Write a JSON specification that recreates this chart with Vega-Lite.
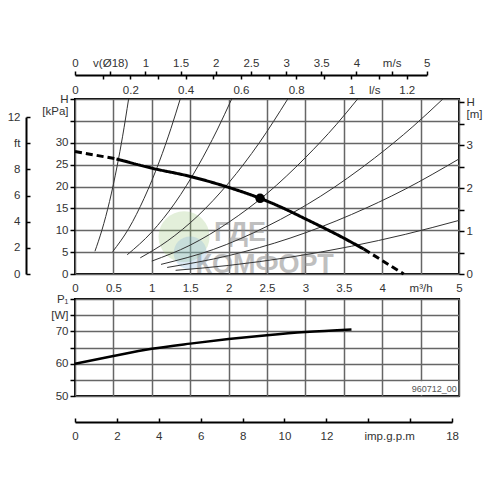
{
  "$schema": "https://vega.github.io/schema/vega-lite/v6.json",
  "background": "white",
  "padding": {"left": 6, "top": 56, "right": 0, "bottom": 0},
  "bounds": "flush",
  "spacing": 25,
  "config": {
    "view": {"stroke": "#000", "strokeWidth": 2},
    "font": "Liberation Sans",
    "axis": {"labelFont": "Liberation Sans", "labelFontSize": 11.5, "labelColor": "#333", "domainColor": "#000", "domainWidth": 2, "tickColor": "#000", "tickWidth": 1.5, "labelFlush": false, "labelOverlap": false, "labelBound": false, "gridColor": "#666", "gridWidth": 1.5, "gridOpacity": 1}
  },
  "datasets": {
    "wm": [{"q": 1.81, "h": 7.6, "t": "ГДЕ", "b": "alphabetic"}, {"q": 1.57, "h": 0.2, "t": "КОМФОРТ", "b": "alphabetic"}],
    "logo": [{"q": 1.42, "h": 8.5, "k": "g"}, {"q": 1.5, "h": 4.8, "k": "b"}],
    "sys": [
      {"c": "C1", "q": 0.26, "h": 5.2}, {"c": "C1", "q": 0.35, "h": 10.0}, {"c": "C1", "q": 0.45, "h": 16.6}, {"c": "C1", "q": 0.55, "h": 24.8}, {"c": "C1", "q": 0.62, "h": 31.5}, {"c": "C1", "q": 0.698, "h": 40},
      {"c": "C2", "q": 0.49, "h": 5.1}, {"c": "C2", "q": 0.7, "h": 10.4}, {"c": "C2", "q": 0.9, "h": 17.3}, {"c": "C2", "q": 1.1, "h": 25.8}, {"c": "C2", "q": 1.25, "h": 33.3}, {"c": "C2", "q": 1.37, "h": 40},
      {"c": "C3", "q": 0.68, "h": 4.4}, {"c": "C3", "q": 1.0, "h": 9.6}, {"c": "C3", "q": 1.3, "h": 16.2}, {"c": "C3", "q": 1.6, "h": 24.6}, {"c": "C3", "q": 1.85, "h": 32.9}, {"c": "C3", "q": 2.04, "h": 40},
      {"c": "C4", "q": 0.85, "h": 3.7}, {"c": "C4", "q": 1.2, "h": 7.5}, {"c": "C4", "q": 1.6, "h": 13.3}, {"c": "C4", "q": 2.0, "h": 20.8}, {"c": "C4", "q": 2.4, "h": 30.0}, {"c": "C4", "q": 2.77, "h": 40},
      {"c": "C5", "q": 1.0, "h": 2.95}, {"c": "C5", "q": 1.5, "h": 6.6}, {"c": "C5", "q": 2.0, "h": 11.8}, {"c": "C5", "q": 2.5, "h": 18.4}, {"c": "C5", "q": 3.0, "h": 26.6}, {"c": "C5", "q": 3.4, "h": 34.1}, {"c": "C5", "q": 3.68, "h": 40},
      {"c": "C6", "q": 1.12, "h": 2.2}, {"c": "C6", "q": 1.8, "h": 5.6}, {"c": "C6", "q": 2.5, "h": 10.9}, {"c": "C6", "q": 3.2, "h": 17.8}, {"c": "C6", "q": 3.9, "h": 26.5}, {"c": "C6", "q": 4.4, "h": 33.7}, {"c": "C6", "q": 4.79, "h": 40},
      {"c": "C7", "q": 1.2, "h": 1.5}, {"c": "C7", "q": 2.0, "h": 4.2}, {"c": "C7", "q": 2.8, "h": 8.2}, {"c": "C7", "q": 3.6, "h": 13.6}, {"c": "C7", "q": 4.3, "h": 19.4}, {"c": "C7", "q": 5.0, "h": 26.3},
      {"c": "C8", "q": 1.31, "h": 0.84}, {"c": "C8", "q": 2.0, "h": 1.96}, {"c": "C8", "q": 2.8, "h": 3.84}, {"c": "C8", "q": 3.6, "h": 6.35}, {"c": "C8", "q": 4.3, "h": 9.06}, {"c": "C8", "q": 5.0, "h": 12.25}
    ],
    "pump": [
      {"seg": "d1", "sty": "d", "q": 0, "h": 28}, {"seg": "d1", "sty": "d", "q": 0.54, "h": 26.3},
      {"seg": "s", "sty": "s", "q": 0.54, "h": 26.3}, {"seg": "s", "sty": "s", "q": 1, "h": 24.2}, {"seg": "s", "sty": "s", "q": 1.5, "h": 22.3}, {"seg": "s", "sty": "s", "q": 2, "h": 19.8}, {"seg": "s", "sty": "s", "q": 2.41, "h": 17.3}, {"seg": "s", "sty": "s", "q": 2.68, "h": 15.3}, {"seg": "s", "sty": "s", "q": 3, "h": 12.6}, {"seg": "s", "sty": "s", "q": 3.5, "h": 8.2}, {"seg": "s", "sty": "s", "q": 3.76, "h": 5.7},
      {"seg": "d2", "sty": "d", "q": 3.76, "h": 5.7}, {"seg": "d2", "sty": "d", "q": 4.28, "h": 0}
    ],
    "pw": [
      {"q": 0, "p": 60}, {"q": 0.5, "p": 62.4}, {"q": 1, "p": 64.6}, {"q": 1.5, "p": 66.2}, {"q": 2, "p": 67.6}, {"q": 2.5, "p": 68.8}, {"q": 3, "p": 69.8}, {"q": 3.6, "p": 70.6}
    ]
  },
  "vconcat": [
    {
      "width": 384,
      "height": 175,
      "resolve": {"scale": {"x": "independent", "y": "independent"}},
      "layer": [
        {"data": {"name": "wm"}, "mark": {"type": "text", "font": "Liberation Sans", "fontWeight": "bold", "fontSize": 27, "color": "#8c8c8c", "opacity": 0.55, "align": "left", "baseline": "alphabetic"},
          "encoding": {
            "x": {"field": "q", "type": "quantitative", "title": null, "scale": {"domain": [0, 5], "nice": false, "zero": false}, "axis": {"orient": "bottom", "values": [0, 0.5, 1, 1.5, 2, 2.5, 3, 3.5, 4, 4.5, 5], "labelExpr": "datum.value == 4.5 ? 'm³/h' : '' + datum.value", "grid": true, "ticks": false, "domain": false, "labelPadding": 8}},
            "y": {"field": "h", "type": "quantitative", "title": null, "scale": {"domain": [0, 40], "nice": false, "zero": false}, "axis": {"orient": "left", "values": [0, 5, 10, 15, 20, 25, 30, 35, 40], "labelExpr": "datum.value == 40 ? 'H' : datum.value == 35 ? '[kPa]' : '' + datum.value", "grid": true, "tickSize": 5, "labelPadding": 2, "domain": false, "labelOffset": {"condition": {"test": "datum.value == 35", "value": -9}, "value": 0}}},
            "text": {"field": "t"}
          }
        },
        {"data": {"name": "logo"}, "mark": {"type": "point", "filled": true, "opacity": 0.28, "strokeWidth": 0},
          "encoding": {
            "x": {"field": "q", "type": "quantitative", "scale": {"domain": [0, 5], "nice": false, "zero": false}, "axis": null},
            "y": {"field": "h", "type": "quantitative", "scale": {"domain": [0, 40], "nice": false, "zero": false}, "axis": null},
            "color": {"field": "k", "type": "nominal", "scale": {"domain": ["g", "b"], "range": ["#9cc47a", "#7fb0dc"]}, "legend": null},
            "size": {"field": "k", "type": "nominal", "scale": {"domain": ["g", "b"], "range": [2600, 1100]}, "legend": null}
          }
        },
        {"data": {"name": "sys"}, "mark": {"type": "line", "color": "#333", "strokeWidth": 1, "interpolate": "monotone"},
          "encoding": {
            "x": {"field": "q", "type": "quantitative", "scale": {"domain": [0, 5], "nice": false, "zero": false}, "axis": null},
            "y": {"field": "h", "type": "quantitative", "scale": {"domain": [0, 40], "nice": false, "zero": false}, "axis": null},
            "detail": {"field": "c", "type": "nominal"}
          }
        },
        {"data": {"name": "pump"}, "mark": {"type": "line", "color": "#000", "strokeWidth": 3, "interpolate": "monotone"},
          "encoding": {
            "x": {"field": "q", "type": "quantitative", "scale": {"domain": [0, 5], "nice": false, "zero": false}, "axis": null},
            "y": {"field": "h", "type": "quantitative", "scale": {"domain": [0, 40], "nice": false, "zero": false}, "axis": null},
            "detail": {"field": "seg", "type": "nominal"},
            "strokeDash": {"field": "sty", "type": "nominal", "scale": {"domain": ["d", "s"], "range": [[7, 4], [1, 0]]}, "legend": null}
          }
        },
        {"data": {"values": [{"q": 2.41, "h": 17.3}]}, "mark": {"type": "point", "filled": true, "color": "#000", "size": 90, "opacity": 1},
          "encoding": {
            "x": {"field": "q", "type": "quantitative", "scale": {"domain": [0, 5], "nice": false, "zero": false}, "axis": null},
            "y": {"field": "h", "type": "quantitative", "scale": {"domain": [0, 40], "nice": false, "zero": false}, "axis": null}
          }
        },
        {"data": {"values": [{"v": 0, "h": 0}, {"v": 5, "h": 0}]}, "mark": {"type": "point", "opacity": 0},
          "encoding": {
            "x": {"field": "v", "type": "quantitative", "title": null, "scale": {"domain": [0, 5], "range": [0, 351.8], "nice": false, "zero": false}, "axis": {"orient": "top", "offset": 24, "values": [0, 0.5, 1, 1.5, 2, 2.5, 3, 3.5, 4, 4.5, 5], "labelExpr": "datum.value == 0.5 ? 'v(Ø18)' : datum.value == 4.5 ? 'm/s' : '' + datum.value", "tickSize": 4, "labelPadding": 3, "grid": false}},
            "y": {"field": "h", "type": "quantitative", "scale": {"domain": [0, 40], "nice": false, "zero": false}, "axis": null}
          }
        },
        {"data": {"values": [{"ls": 0, "h": 0}]}, "mark": {"type": "point", "opacity": 0},
          "encoding": {
            "x": {"field": "ls", "type": "quantitative", "title": null, "scale": {"domain": [0, 1.388889], "nice": false, "zero": false}, "axis": {"orient": "top", "offset": 0, "values": [0, 0.2, 0.4, 0.6, 0.8, 1, 1.1, 1.2], "labelExpr": "datum.value == 1.1 ? 'l/s' : '' + datum.value", "ticks": false, "domain": false, "labelPadding": 4, "grid": false, "labelOffset": {"condition": {"test": "datum.value == 1.1", "value": -5}, "value": 0}}},
            "y": {"field": "h", "type": "quantitative", "scale": {"domain": [0, 40], "nice": false, "zero": false}, "axis": null}
          }
        },
        {"data": {"values": [{"lt": 0, "h": 0}]}, "mark": {"type": "point", "opacity": 0},
          "encoding": {
            "x": {"field": "lt", "type": "quantitative", "title": null, "scale": {"domain": [0, 1.388889], "nice": false, "zero": false}, "axis": {"orient": "top", "offset": 24, "values": [0.1, 0.2, 0.3, 0.4, 0.5, 0.6, 0.7, 0.8, 0.9, 1, 1.1, 1.2], "labels": false, "domain": false, "tickSize": -4, "grid": false}},
            "y": {"field": "h", "type": "quantitative", "scale": {"domain": [0, 40], "nice": false, "zero": false}, "axis": null}
          }
        },
        {"data": {"values": [{"ft": 0, "q": 0}]}, "mark": {"type": "point", "opacity": 0},
          "encoding": {
            "x": {"field": "q", "type": "quantitative", "scale": {"domain": [0, 5], "nice": false, "zero": false}, "axis": null},
            "y": {"field": "ft", "type": "quantitative", "title": null, "scale": {"domain": [0, 12], "range": [175, 18.1], "nice": false, "zero": false}, "axis": {"orient": "left", "offset": 49, "values": [0, 2, 4, 6, 8, 10, 12], "labelExpr": "datum.value == 10 ? 'ft' : '' + datum.value", "tickSize": -4, "labelPadding": 10, "grid": false}}
          }
        },
        {"data": {"values": [{"m": 0, "q": 0}]}, "mark": {"type": "point", "opacity": 0},
          "encoding": {
            "x": {"field": "q", "type": "quantitative", "scale": {"domain": [0, 5], "nice": false, "zero": false}, "axis": null},
            "y": {"field": "m", "type": "quantitative", "title": null, "scale": {"domain": [0, 4], "range": [175, 3.4], "nice": false, "zero": false}, "axis": {"orient": "right", "values": [0, 0.5, 1, 1.5, 2, 2.5, 3, 3.5, 4], "labelExpr": "datum.value == 4 ? 'H' : datum.value == 3.5 ? '[m]' : datum.value % 1 == 0 ? '' + datum.value : ''", "tickSize": 5, "labelPadding": 2, "domain": false, "grid": false, "labelOffset": {"condition": {"test": "datum.value == 3.5", "value": -9}, "value": 0}}}
          }
        }
      ]
    },
    {
      "width": 384,
      "height": 97,
      "resolve": {"scale": {"x": "independent", "y": "independent"}},
      "layer": [
        {"data": {"name": "pw"}, "mark": {"type": "line", "color": "#000", "strokeWidth": 2.5, "interpolate": "monotone"},
          "encoding": {
            "x": {"field": "q", "type": "quantitative", "title": null, "scale": {"domain": [0, 5], "nice": false, "zero": false}, "axis": {"orient": "top", "values": [0, 0.5, 1, 1.5, 2, 2.5, 3, 3.5, 4, 4.5, 5], "grid": true, "labels": false, "ticks": false, "domain": false}},
            "y": {"field": "p", "type": "quantitative", "title": null, "scale": {"domain": [50, 80], "nice": false, "zero": false}, "axis": {"orient": "left", "values": [50, 55, 60, 65, 70, 75, 80], "labelExpr": "datum.value == 80 ? 'P₁' : datum.value == 75 ? '[W]' : datum.value % 10 == 0 ? '' + datum.value : ''", "grid": true, "tickSize": 5, "labelPadding": 2, "domain": false}}
          }
        },
        {"data": {"values": [{"q": 4.36, "q2": 4.99, "p": 50.3, "p2": 54.6}]}, "mark": {"type": "rect", "color": "white"},
          "encoding": {
            "x": {"field": "q", "type": "quantitative", "scale": {"domain": [0, 5], "nice": false, "zero": false}, "axis": null},
            "x2": {"field": "q2"},
            "y": {"field": "p", "type": "quantitative", "scale": {"domain": [50, 80], "nice": false, "zero": false}, "axis": null},
            "y2": {"field": "p2"}
          }
        },
        {"data": {"values": [{"q": 4.97, "p": 51.1, "t": "960712_00"}]}, "mark": {"type": "text", "align": "right", "baseline": "alphabetic", "fontSize": 9, "color": "#555"},
          "encoding": {
            "x": {"field": "q", "type": "quantitative", "scale": {"domain": [0, 5], "nice": false, "zero": false}, "axis": null},
            "y": {"field": "p", "type": "quantitative", "scale": {"domain": [50, 80], "nice": false, "zero": false}, "axis": null},
            "text": {"field": "t"}
          }
        },
        {"data": {"values": [{"g": 0, "p": 60}]}, "mark": {"type": "point", "opacity": 0},
          "encoding": {
            "x": {"field": "g", "type": "quantitative", "title": null, "scale": {"domain": [0, 18], "range": [0, 377.07], "nice": false, "zero": false}, "axis": {"orient": "bottom", "offset": 26, "values": [0, 2, 4, 6, 8, 10, 12, 14, 16, 18], "labelExpr": "datum.value == 16 ? 'imp.g.p.m' : datum.value == 14 ? '' : '' + datum.value", "tickSize": -4, "labelPadding": 12, "grid": false, "labelOffset": {"condition": {"test": "datum.value == 16", "value": -21}, "value": 0}}},
            "y": {"field": "p", "type": "quantitative", "scale": {"domain": [50, 80], "nice": false, "zero": false}, "axis": null}
          }
        }
      ]
    }
  ]
}
